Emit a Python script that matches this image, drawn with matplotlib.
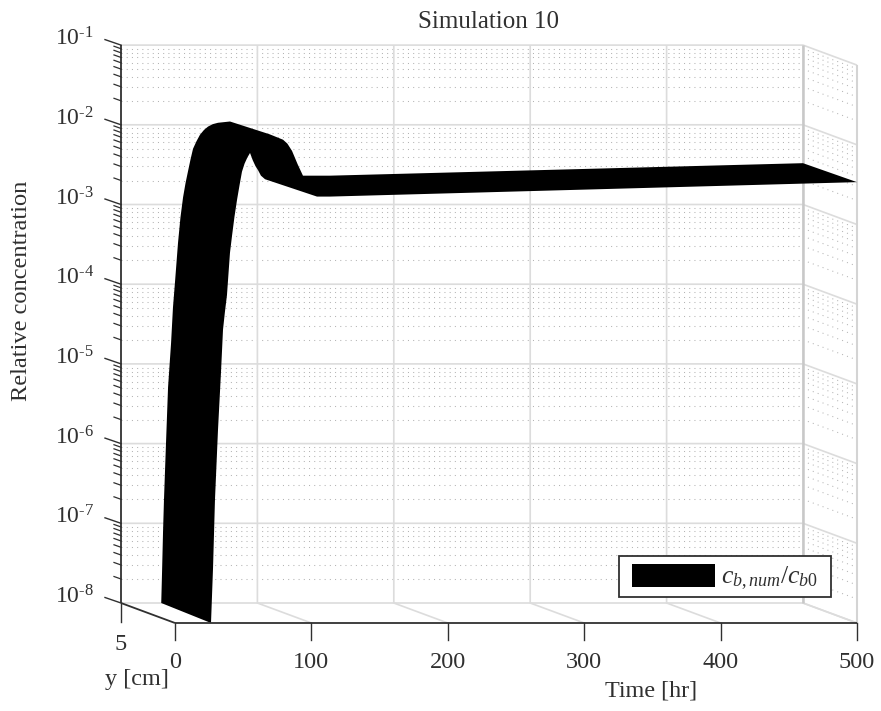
import numpy as np
import matplotlib
matplotlib.use("Agg")
import matplotlib.pyplot as plt
from matplotlib.patches import Rectangle

plt.rcParams['font.family'] = ['Liberation Serif', 'DejaVu Serif']
plt.rcParams['mathtext.fontset'] = 'custom'
plt.rcParams['mathtext.rm'] = 'Liberation Serif'
plt.rcParams['mathtext.it'] = 'Liberation Serif:italic'
plt.rcParams['mathtext.bf'] = 'Liberation Serif:bold'

# ---- data -------------------------------------------------------------
time_back = [29.5, 30.1, 30.8, 31.5, 33, 34.5, 36.7, 38.1, 39.6, 41.8, 43.6, 45.5, 47.3, 49.1,
             51, 52.8, 55.3, 57.9, 60.8, 63.8, 67.4, 71.1, 79.9, 109, 118.8, 122, 125.4, 129.5,
             133.4, 153.2, 500]
conc_back = [1e-8, 2.45e-8, 7.6e-8, 1.95e-7, 1.02e-6, 5.1e-6, 1.82e-5, 5.1e-5, 1.07e-4,
             3.3e-4, 6.9e-4, 1.23e-3, 1.85e-3, 2.6e-3, 3.7e-3, 5.0e-3, 6.2e-3, 7.5e-3, 8.6e-3,
             9.5e-3, 1.02e-2, 1.06e-2, 1.1e-2, 7.6e-3, 6.5e-3, 5.8e-3, 4.7e-3, 3.2e-3,
             2.3e-3, 2.3e-3, 3.3e-3]
time_front = [26.4, 27.9, 29.3, 31.5, 33.7, 35.2, 36.6, 38.1, 39.2, 40.3, 41.8, 43.6, 45.5, 47.3,
              49.1, 51, 53, 55, 57, 59, 60.9, 63, 66, 104.1, 113.6, 500]
conc_front = [1e-8, 5e-8, 3.5e-7, 2.6e-6, 1.38e-5, 4.8e-5, 8e-5, 1.3e-4, 2.4e-4, 4.4e-4, 7.2e-4,
              1.25e-3, 2.05e-3, 3.1e-3, 4.6e-3, 5.8e-3, 6.9e-3, 7.9e-3, 6.4e-3, 5.4e-3, 4.8e-3,
              4.1e-3, 3.7e-3, 2.24e-3, 2.24e-3, 3.4e-3]
y_back = 5
y_front = 0
time_ticks = [0, 100, 200, 300, 400, 500]
y_ticks = [0, 5]
decades = [-1, -2, -3, -4, -5, -6, -7, -8]
minor_mult = [2, 3, 4, 5, 6, 7, 8, 9]
title = "Simulation 10"
xlabel = "Time [hr]"
ylabel = "y [cm]"
zlabel = "Relative concentration"
legend_label = r"$c_{b,num}/c_{b0}$"

# ---- view projection (time, y, log10 c) -> figure pixels ---------------
def proj(t, y, c):
    t, y, c = np.asarray(t, float), np.asarray(y, float), np.asarray(c, float)
    sx = 121 + 1.364 * t + 10.8 * (5 - y)
    sy = 603 - 79.7 * (np.log10(c) + 8) + 4.0 * (5 - y)
    return sx, sy

fig = plt.figure(figsize=(8.81, 7.11), dpi=100)
ax = fig.add_axes([0, 0, 1, 1])
ax.set_xlim(0, 881)
ax.set_ylim(711, 0)
ax.axis('off')

DARK = '#303030'
GRID = '#dcdcdc'
DOT = '#b4b4b4'
T0, T1 = 0, 500

def line3(ts, ys, cs, **kw):
    x, y = proj(ts, ys, cs)
    ax.plot(x, y, solid_capstyle='butt', **kw)

# minor dotted grid
for d in decades[1:]:
    for m in minor_mult:
        c = m * 10.0 ** d
        line3([T0, T1], [5, 5], [c, c], color=DOT, lw=0.75, ls=(0, (1, 4)), zorder=1)
        line3([T1, T1], [5, 0], [c, c], color=DOT, lw=0.75, ls=(0, (1, 4)), zorder=1)

# major grid
for d in decades:
    c = 10.0 ** d
    line3([T0, T1, T1], [5, 5, 0], [c, c, c], color=GRID, lw=1.2, zorder=2)
ctop, cbot = 10.0 ** decades[0], 10.0 ** decades[-1]
for t in time_ticks[1:]:
    line3([t, t, t], [5, 5, 0], [ctop, cbot, cbot], color=GRID, lw=1.2, zorder=2)
line3([T1, T1], [5, 5], [ctop, cbot], color='#c8c8c8', lw=1.8, zorder=2)
line3([T1, T1], [0, 0], [ctop, cbot], color='#d4d4d4', lw=1.5, zorder=2)

# ribbon
bx, by = proj(time_back, y_back, conc_back)
fx, fy = proj(time_front, y_front, conc_front)
poly = ax.fill(np.r_[bx, fx[::-1]], np.r_[by, fy[::-1]], color='black', lw=0, zorder=3,
               label=legend_label)[0]

# axes lines
line3([T0, T0], [5, 5], [ctop, cbot], color=DARK, lw=1.3, zorder=4)
line3([T0, T0], [5, 0], [cbot, cbot], color=DARK, lw=1.3, zorder=4)
line3([T0, T1], [0, 0], [cbot, cbot], color=DARK, lw=1.3, zorder=4)

# ticks
for t in time_ticks:
    x, y = proj(t, 0, cbot)
    ax.plot([x, x], [y, y + 17], color=DARK, lw=1.0, zorder=4)
    ax.text(x, y + 40, f"{t}", ha='center', va='center', fontsize=17.5, color=DARK)
for yv in y_ticks:
    x, y = proj(0, yv, cbot)
    if yv == 5:
        ax.plot([x, x], [y, y + 19], color=DARK, lw=1.0, zorder=4)
        ax.text(x, y + 41, f"{yv}", ha='center', va='center', fontsize=17.5, color=DARK)
for d in decades:
    c = 10.0 ** d
    x, y = proj(0, 5, c)
    ax.plot([x - 16, x], [y - 5.5, y], color=DARK, lw=1.0, zorder=4)
    ax.text(94, y - 6, rf"10$^{{\text{{-}}{-d}}}$", ha='right', va='center', fontsize=17, color=DARK)
for d in decades[1:]:
    for m in minor_mult:
        x, y = proj(0, 5, m * 10.0 ** d)
        ax.plot([x - 7, x], [y - 2.5, y], color=DARK, lw=0.9, zorder=4)

ax.text(489, 22, title, ha='center', va='center', fontsize=18, color=DARK)
ax.text(651, 691, xlabel, ha='center', va='center', fontsize=17.4, color=DARK)
ax.text(137, 680, ylabel, ha='center', va='center', fontsize=17.5, color=DARK)
ax.text(22, 291, zlabel, ha='center', va='center', rotation=90, fontsize=17.6, color=DARK)

# legend: frame drawn separately so that it can be tighter vertically than the padding
ax.add_patch(Rectangle((619, 556), 212, 41, facecolor='white', edgecolor=DARK, lw=1.3, zorder=5))
leg = ax.legend(handles=[poly], loc='center', bbox_to_anchor=(725 / 881, 1 - 578 / 711),
                bbox_transform=fig.transFigure, fontsize=18.5, frameon=False,
                handlelength=3.23, handleheight=1.0, handletextpad=0.27,
                borderpad=0.0, borderaxespad=0)
leg.set_zorder(6)
for txt in leg.get_texts():
    txt.set_color(DARK)

fig.savefig("out.png", dpi=100, facecolor='white')
